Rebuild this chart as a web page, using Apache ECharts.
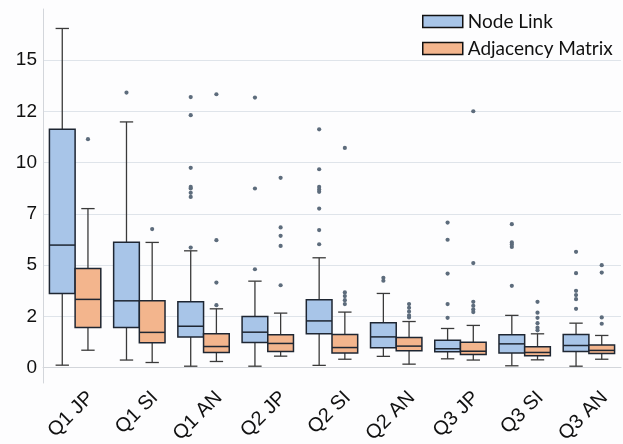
<!DOCTYPE html>
<html><head><meta charset="utf-8">
<script src="https://cdn.jsdelivr.net/npm/echarts@6/dist/echarts.min.js"></script>
<style>html,body{margin:0;padding:0;background:#fdfdfe}#c{width:623px;height:444px}</style>
</head><body><div id="c"></div>
<script>
const categories = ['Q1 JP','Q1 SI','Q1 AN','Q2 JP','Q2 SI','Q2 AN','Q3 JP','Q3 SI','Q3 AN'];
const yTicks = [0, 2.5, 5, 7.5, 10, 12.5, 15];
// [low whisker, Q1, median, Q3, high whisker]
const nodeLinkStats = [
  [0.12, 3.62, 5.98, 11.63, 16.55],
  [0.37, 1.96, 3.26, 6.12, 11.99],
  [0.07, 1.49, 2.02, 3.22, 5.70],
  [0.07, 1.23, 1.73, 2.50, 4.22],
  [0.11, 1.65, 2.28, 3.31, 5.36],
  [0.55, 0.97, 1.50, 2.19, 3.62],
  [0.43, 0.77, 0.92, 1.33, 1.91],
  [0.09, 0.72, 1.16, 1.60, 2.55],
  [0.07, 0.79, 1.08, 1.62, 2.17]
];
const adjMatrixStats = [
  [0.85, 1.96, 3.33, 4.84, 7.76],
  [0.25, 1.21, 1.72, 3.26, 6.11],
  [0.30, 0.74, 1.03, 1.65, 2.87],
  [0.56, 0.79, 1.18, 1.60, 2.66],
  [0.41, 0.72, 0.98, 1.62, 2.71],
  [0.17, 0.82, 1.05, 1.47, 2.25],
  [0.37, 0.64, 0.80, 1.24, 2.06],
  [0.38, 0.58, 0.74, 1.02, 1.65],
  [0.41, 0.69, 0.84, 1.10, 1.57]
];
const nodeLinkOutliers = [
  [],
  [13.42],
  [5.86, 8.33, 8.53, 8.74, 8.82, 9.75, 12.32, 13.20],
  [4.80, 8.74, 13.18],
  [6.02, 6.71, 7.76, 8.58, 8.69, 8.82, 9.68, 11.63],
  [4.24, 4.38],
  [2.43, 3.10, 4.59, 6.24, 7.08],
  [3.99, 5.89, 6.01, 6.11, 7.00],
  [2.87, 3.34, 3.54, 3.75, 4.61, 5.65]
];
const adjMatrixOutliers = [
  [11.15],
  [6.76],
  [3.05, 4.15, 6.22, 13.34],
  [4.02, 5.94, 6.43, 6.84, 9.26],
  [3.10, 3.29, 3.49, 3.67, 10.72],
  [2.45, 2.55, 2.74, 2.92, 3.10],
  [2.71, 2.84, 3.02, 3.21, 5.10, 12.51],
  [1.82, 1.95, 2.17, 2.43, 2.68, 3.21],
  [2.14, 2.45, 4.64, 5.00]
];

const BLUE = '#a8c5e8', ORANGE = '#f3b58d';
const DARK = '#1e2632', WHISK = '#3a3a3a';
const AXISFONT = '"Liberation Sans", Arial, sans-serif';

function boxRender(side) {
  return function (params, api) {
    const ci = api.value(0);
    const band = api.size([1, 0])[0];
    const cx = api.coord([ci, 0])[0] + side * band * 0.2;
    const w = band * 0.4;
    const y = i => api.coord([ci, api.value(i)])[1];
    const low = y(1), q1 = y(2), med = y(3), q3 = y(4), high = y(5);
    const cap = w * 0.52;
    const ls = {stroke: WHISK, lineWidth: 1.3};
    const fill = api.visual('color');
    return {type: 'group', children: [
      {type: 'line', shape: {x1: cx, y1: high, x2: cx, y2: q3}, style: ls},
      {type: 'line', shape: {x1: cx, y1: q1, x2: cx, y2: low}, style: ls},
      {type: 'line', shape: {x1: cx - cap / 2, y1: high, x2: cx + cap / 2, y2: high}, style: ls},
      {type: 'line', shape: {x1: cx - cap / 2, y1: low, x2: cx + cap / 2, y2: low}, style: ls},
      {type: 'rect', shape: {x: cx - w / 2, y: q3, width: w, height: q1 - q3}, style: {fill: fill, stroke: DARK, lineWidth: 1.5}},
      {type: 'line', shape: {x1: cx - w / 2, y1: med, x2: cx + w / 2, y2: med}, style: {stroke: DARK, lineWidth: 1.5}}
    ]};
  };
}
function outRender(side) {
  return function (params, api) {
    const ci = api.value(0);
    const band = api.size([1, 0])[0];
    const p = api.coord([ci, api.value(1)]);
    return {type: 'circle', shape: {cx: p[0] + side * band * 0.2, cy: p[1], r: 2.1}, style: {fill: '#5d6c7c'}};
  };
}
const statsData = arr => arr.map((s, i) => [i].concat(s));
const outData = arr => arr.flatMap((list, i) => list.map(v => [i, v]));

const chart = echarts.init(document.getElementById('c'), null, {renderer: 'canvas'});
chart.setOption({
  backgroundColor: '#fdfdfe',
  animation: false,
  textStyle: {fontFamily: AXISFONT},
  grid: {left: 43, right: 2, top: 9, bottom: 61, outerBoundsMode: 'none', containLabel: false},
  legend: {
    orient: 'vertical', left: 417, top: 7, itemWidth: 40, itemHeight: 12, itemGap: 8,
    icon: 'rect',
    textStyle: {fontFamily: 'Lato', fontSize: 19, color: '#111'},
    data: [
      {name: 'Node Link', itemStyle: {color: BLUE, borderColor: '#111', borderWidth: 1.5}},
      {name: 'Adjacency Matrix', itemStyle: {color: ORANGE, borderColor: '#111', borderWidth: 1.5}}
    ]
  },
  xAxis: {
    type: 'category', data: categories,
    axisLine: {show: true, lineStyle: {color: '#d3d6db', width: 1}},
    axisTick: {show: false},
    axisLabel: {
      interval: 0, rotate: 45, margin: -4, fontSize: 20, color: '#111',
      fontFamily: AXISFONT, verticalAlign: 'top', lineHeight: 44
    },
    splitLine: {show: false}
  },
  yAxis: {
    type: 'value', min: -0.75, max: 17.5,
    axisLine: {show: true, lineStyle: {color: '#d3d6db', width: 1}},
    axisTick: {show: false, customValues: yTicks},
    axisLabel: {
      customValues: yTicks, margin: 6, fontSize: 19, color: '#111',
      fontFamily: AXISFONT,
      formatter: v => String(Math.floor(v))
    },
    splitLine: {show: true, lineStyle: {color: '#dfe4ea', width: 1}}
  },
  series: [
    {name: 'Node Link', type: 'custom', itemStyle: {color: BLUE}, renderItem: boxRender(-1),
     encode: {x: 0, y: [1, 2, 3, 4, 5]}, data: statsData(nodeLinkStats)},
    {name: 'Adjacency Matrix', type: 'custom', itemStyle: {color: ORANGE}, renderItem: boxRender(1),
     encode: {x: 0, y: [1, 2, 3, 4, 5]}, data: statsData(adjMatrixStats)},
    {name: 'Node Link', type: 'custom', renderItem: outRender(-1),
     encode: {x: 0, y: 1}, data: outData(nodeLinkOutliers), z: 3},
    {name: 'Adjacency Matrix', type: 'custom', renderItem: outRender(1),
     encode: {x: 0, y: 1}, data: outData(adjMatrixOutliers), z: 3}
  ]
});
</script></body></html>
